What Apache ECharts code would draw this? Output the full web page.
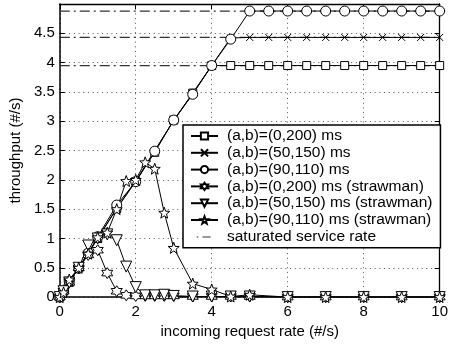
<!DOCTYPE html>
<html><head><meta charset="utf-8">
<script src="https://cdn.jsdelivr.net/npm/echarts@6/dist/echarts.min.js"></script>
<style>html,body{margin:0;padding:0;background:#fff}#c{width:451px;height:344px}</style>
</head><body><div id="c"></div>
<script>
// ---- data ----
const xsNormal = [0,0.1,0.25,0.5,0.75,1,1.5,2,2.5,3,3.5,4,4.5,5,5.5,6,6.5,7,7.5,8,8.5,9,9.5,10];
const sq_0_200   = [0,0.1,0.25,0.5,0.74,1.0,1.51,1.97,2.47,3.02,3.48,3.95,3.95,3.95,3.95,3.95,3.95,3.95,3.95,3.95,3.95,3.95,3.95,3.95];
const x_50_150   = [0,0.1,0.25,0.5,0.76,1.0,1.52,1.98,2.5,3.01,3.47,3.95,4.42,4.43,4.43,4.43,4.43,4.43,4.43,4.43,4.43,4.43,4.43,4.43];
const o_90_110   = [0,0.1,0.26,0.49,0.75,1.03,1.57,1.97,2.49,3.02,3.46,3.95,4.4,4.88,4.88,4.88,4.88,4.88,4.88,4.88,4.88,4.88,4.88,4.88];
const xsStraw = [0,0.1,0.25,0.5,0.75,1,1.25,1.5,1.75,2,2.25,2.5,2.75,3,3.5,4,4.5,5,6,7,8,9,10];
const hex_0_200  = [0,0.1,0.25,0.5,0.72,0.8,0.41,0.1,0.03,0.02,0.02,0.02,0.02,0.02,0.01,0.01,0.01,0.01,0,0,0,0,0];
const tri_50_150 = [0,0.1,0.25,0.5,0.88,1.0,1.07,0.97,0.52,0.17,0.03,0.03,0.04,0.02,0.01,0.01,0.01,0.01,0,0,0,0,0];
const star_90_110= [0,0.08,0.3,0.5,0.74,1.02,1.1,1.5,1.98,2.0,2.3,2.19,1.44,0.84,0.23,0.13,0.01,0.04,0,0,0,0,0];
const satRates = [3.95, 4.43, 4.88];
const names = ['(a,b)=(0,200) ms','(a,b)=(50,150) ms','(a,b)=(90,110) ms',
  '(a,b)=(0,200) ms (strawman)','(a,b)=(50,150) ms (strawman)','(a,b)=(90,110) ms (strawman)',
  'saturated service rate'];
const xTicks = [0,2,4,6,8,10];
const yTicks = [0,0.5,1,1.5,2,2.5,3,3.5,4,4.5];

// ---- symbol shapes ----
function starPath(n, inner){
  let p=[];
  for(let i=0;i<2*n;i++){
    const r = i%2===0 ? 10 : 10*inner;
    const a = -Math.PI/2 + i*Math.PI/n;
    p.push((10+r*Math.cos(a)).toFixed(2)+','+(10+r*Math.sin(a)).toFixed(2));
  }
  return 'path://M'+p.join('L')+'Z';
}
const hexagram = starPath(6, 0.577);
const star5 = starPath(5, 0.42);
const cross = 'path://M0,0L10,10M10,0L0,10';
// legend icon for dash-dot line (27 x 11 box, frame points invisible)
const dashDotIcon = 'path://M0,0L0.01,0ZM27,11L27.01,11ZM4,5.2h2v1.3h-2zM11,5.2h10v1.3h-10z';

const pair = (xs, ys) => xs.map((x,i)=>[x, ys[i]]);
const font = 'Liberation Sans, Arial, Helvetica, sans-serif';

function dataSeries(name, xs, ys, symbol, size, extra){
  return Object.assign({
    name, type:'line', data: pair(xs, ys), symbol, symbolSize: size,
    lineStyle:{color:'#000', width:1}, itemStyle:{color:'#fff', borderColor:'#000', borderWidth:1},
    z:3, animation:false
  }, extra||{});
}

const series = [
  dataSeries(names[0], xsNormal, sq_0_200, 'rect', 8),
  dataSeries(names[1], xsNormal, x_50_150, cross, 7, {itemStyle:{color:'#000', borderColor:'#000', borderWidth:1}}),
  dataSeries(names[2], xsNormal, o_90_110, 'circle', 10),
  dataSeries(names[3], xsStraw, hex_0_200, hexagram, 11),
  dataSeries(names[4], xsStraw, tri_50_150, 'triangle', 11, {symbolRotate:180}),
  dataSeries(names[5], xsStraw, star_90_110, star5, 11)
];
satRates.forEach(v => series.push({
  name: names[6], type:'line', data:[[0,v],[10,v]], symbol:'none',
  lineStyle:{color:'#333', width:1.3, type:[10,4,2,4]}, itemStyle:{color:'#333'}, z:1, animation:false
}));

const legendData = names.map((n,i) => i===6 ? {name:n, icon:dashDotIcon, itemStyle:{color:'#333', borderWidth:0}} : {name:n});

const chart = echarts.init(document.getElementById('c'), null, {renderer:'canvas'});
const gridLine = {show:true, lineStyle:{color:'#555', width:1, type:[1,3.7]}};
chart.setOption({
  backgroundColor:'#fff',
  animation:false,
  grid:{left:53, right:6, top:4, bottom:40, show:false},
  legend:{
    data: legendData, orient:'vertical', left:183, top:125,
    itemWidth:27, itemHeight:9, itemGap:0.8,
    padding:[3,8,3,7],
    backgroundColor:'#fff', borderColor:'#000', borderWidth:1.5, borderRadius:0,
    textStyle:{fontFamily:font, fontSize:15.5, color:'#000', lineHeight:16, padding:[0,0,0,4]},
    selectedMode:false
  },
  xAxis:[{
    type:'value', min:0, max:10, interval:2,
    name:'incoming request rate (#/s)', nameLocation:'middle', nameGap:24,
    nameTextStyle:{fontFamily:font, fontSize:15, color:'#000'},
    axisLine:{show:true, onZero:false, lineStyle:{color:'#000', width:1.5}},
    axisTick:{show:true, inside:true, length:5, lineStyle:{color:'#000'}},
    axisLabel:{fontFamily:font, fontSize:15, color:'#000', margin:7, showMaxLabel:true, showMinLabel:true},
    splitLine:gridLine
  },{
    type:'value', position:'top', min:0, max:10, interval:2,
    axisLine:{show:true, onZero:false, lineStyle:{color:'#000', width:1.3}},
    axisTick:{show:true, inside:true, length:5, lineStyle:{color:'#000'}},
    axisLabel:{show:false}, splitLine:{show:false}
  }],
  yAxis:[{
    type:'value', min:0, max:5, interval:0.5,
    name:'throughput (#/s)', nameLocation:'middle', nameGap:31,
    nameTextStyle:{fontFamily:font, fontSize:15, color:'#000'},
    axisLine:{show:true, onZero:false, lineStyle:{color:'#000', width:1.5}},
    axisTick:{show:true, inside:true, length:5, lineStyle:{color:'#000'}},
    axisLabel:{fontFamily:font, fontSize:15, color:'#000', margin:5,
      formatter: v => yTicks.indexOf(v) >= 0 ? String(v) : ''},
    splitLine:gridLine
  },{
    type:'value', position:'right', min:0, max:5, interval:0.5,
    axisLine:{show:true, onZero:false, lineStyle:{color:'#000', width:1.3}},
    axisTick:{show:true, inside:true, length:5, lineStyle:{color:'#000'}},
    axisLabel:{show:false}, splitLine:{show:false}
  }],
  series
});
</script>
</body></html>
